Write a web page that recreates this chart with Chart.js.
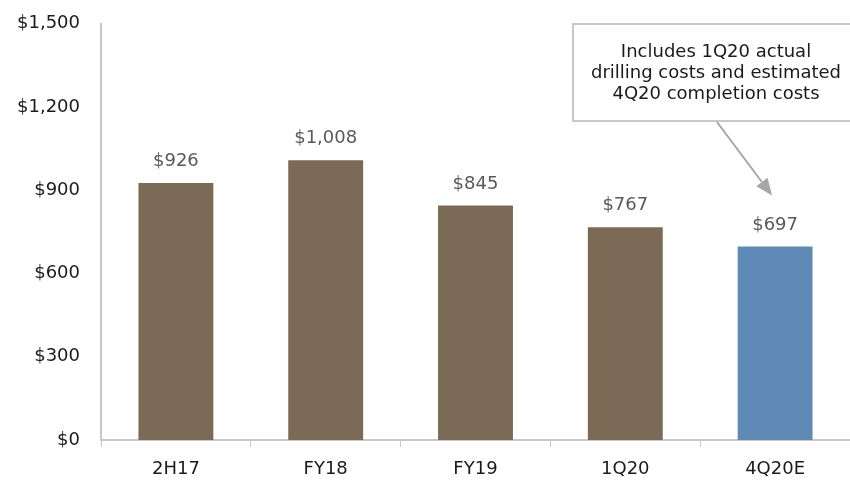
<script src="https://cdn.jsdelivr.net/npm/chart.js@4.4.7/dist/chart.umd.min.js"></script>

<style>
  html, body { margin: 0; padding: 0; background: #fff; }
  .chart-container { width: 850px; height: 480px; }
</style>

<div class="chart-container">
  <canvas id="chart"></canvas>
</div>

<script>
  const categories = ['2H17', 'FY18', 'FY19', '1Q20', '4Q20E']
  const costs = [926, 1008, 845, 767, 697]
  const barColors = ['#7b6a56', '#7b6a56', '#7b6a56', '#7b6a56', '#5f8ab5']
  const yTicks = [0, 300, 600, 900, 1200, 1500]
  const noteLines = ['Includes 1Q20 actual', 'drilling costs and estimated', '4Q20 completion costs']

  const fontFamily = '"DejaVu Sans", sans-serif'

  function money(v) {
    return '$' + v.toLocaleString('en-US')
  }

  // value labels above each bar
  const valueLabels = {
    id: 'valueLabels',
    afterDatasetsDraw(chart) {
      const ctx = chart.ctx
      const meta = chart.getDatasetMeta(0)
      ctx.save()
      ctx.font = '18px ' + fontFamily
      ctx.fillStyle = '#595959'
      ctx.textAlign = 'center'
      ctx.textBaseline = 'alphabetic'
      meta.data.forEach((bar, i) => {
        ctx.fillText(money(costs[i]), bar.x, bar.y - 17)
      })
      ctx.restore()
    }
  }

  // callout box with arrow pointing to last bar
  const callout = {
    id: 'callout',
    afterDraw(chart) {
      const ctx = chart.ctx
      const bar = chart.getDatasetMeta(0).data[4]
      ctx.save()
      // box
      ctx.fillStyle = '#fff'
      ctx.strokeStyle = '#c8c8c8'
      ctx.lineWidth = 2
      ctx.fillRect(573, 24, 290, 97)
      ctx.strokeRect(573, 24, 290, 97)
      ctx.font = '18px ' + fontFamily
      ctx.fillStyle = '#1a1a1a'
      ctx.textAlign = 'center'
      ctx.textBaseline = 'alphabetic'
      noteLines.forEach((t, i) => {
        ctx.fillText(t, 716, 57 + i * 21)
      })
      // arrow
      const x0 = 717, y0 = 122
      const x1 = bar.x - 3, y1 = bar.y - 51
      ctx.strokeStyle = '#a6a6a6'
      ctx.fillStyle = '#a6a6a6'
      ctx.lineWidth = 2
      const ang = Math.atan2(y1 - y0, x1 - x0)
      const hl = 17
      const hw = 7
      const bx = x1 - hl * Math.cos(ang)
      const by = y1 - hl * Math.sin(ang)
      ctx.beginPath()
      ctx.moveTo(x0, y0)
      ctx.lineTo(bx, by)
      ctx.stroke()
      ctx.beginPath()
      ctx.moveTo(x1, y1)
      ctx.lineTo(bx + hw * Math.sin(ang), by - hw * Math.cos(ang))
      ctx.lineTo(bx - hw * Math.sin(ang), by + hw * Math.cos(ang))
      ctx.closePath()
      ctx.fill()
      ctx.restore()
    }
  }

  const config = {
    type: 'bar',
    data: {
      labels: categories,
      datasets: [{
        data: costs,
        backgroundColor: barColors,
        borderWidth: 0,
        categoryPercentage: 1,
        barPercentage: 0.5
      }]
    },
    options: {
      responsive: true,
      maintainAspectRatio: false,
      animation: false,
      layout: { padding: { top: 0, right: 0, bottom: 0, left: 0 } },
      plugins: {
        legend: { display: false },
        tooltip: { enabled: false }
      },
      scales: {
        x: {
          grid: {
            display: true,
            drawOnChartArea: false,
            offset: true,
            tickLength: 7,
            color: '#c8c8c8'
          },
          border: { color: '#c8c8c8', width: 2 },
          ticks: {
            color: '#1a1a1a',
            font: { family: fontFamily, size: 18 },
            padding: 12
          },
          afterFit(scale) { scale.height = 40 }
        },
        y: {
          min: 0,
          max: 1500,
          afterBuildTicks(scale) {
            scale.ticks = yTicks.map(v => ({ value: v }))
          },
          grid: { display: false },
          border: { color: '#c8c8c8', width: 2 },
          ticks: {
            color: '#1a1a1a',
            font: { family: fontFamily, size: 18 },
            padding: 13,
            callback: (v) => money(v)
          },
          afterFit(scale) { scale.width = 101 }
        }
      }
    },
    plugins: [valueLabels, callout]
  }

  const myChart = new Chart(document.getElementById('chart'), config)
</script>
